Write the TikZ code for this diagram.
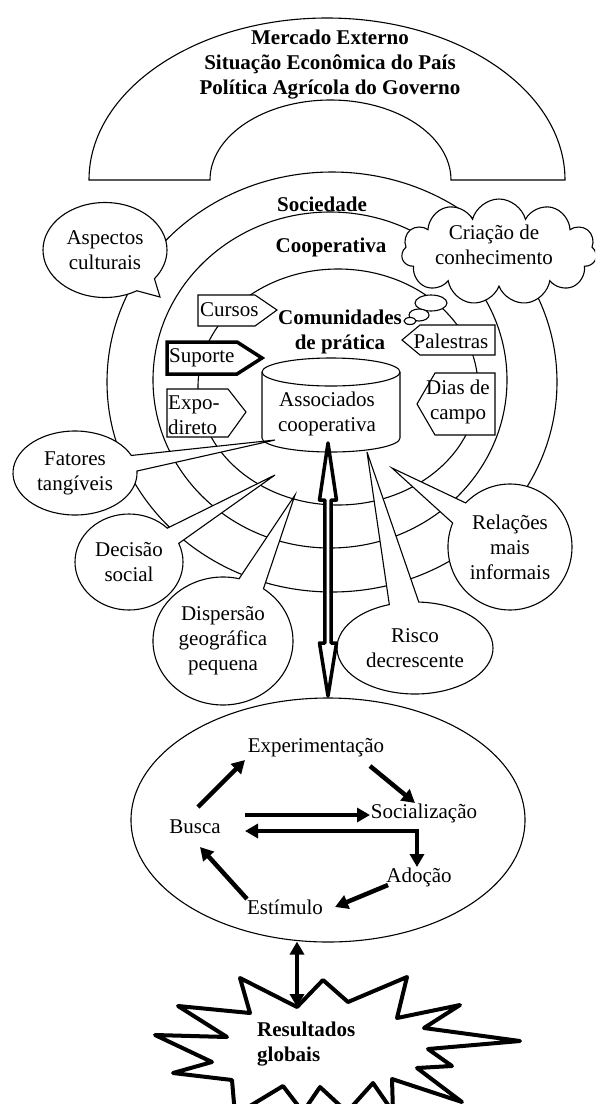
\documentclass[tikz,border=0pt]{standalone}
\usepackage{fontspec}
\setmainfont{Liberation Serif}
\usetikzlibrary{shapes.callouts,shapes.symbols,shapes.geometric,arrows.meta,calc}
\begin{document}
\begin{tikzpicture}[x=1pt,y=-1pt,
  lw/.style={line width=1.1pt},
  txt/.style={font=\fontsize{21}{25}\selectfont, inner sep=0pt, align=center},
  btxt/.style={font=\fontsize{21}{25}\selectfont\bfseries, inner sep=0pt, align=center},
  bubble/.style={ellipse callout, draw, line width=1.1pt, fill=white, inner sep=0pt,
     align=center, font=\fontsize{21}{25}\selectfont, callout pointer arc=22},
  boxshape/.style={draw, line width=1.1pt, fill=white},
  oval/.style={draw, ellipse, line width=1.1pt, fill=white, inner sep=0pt},
  cyc/.style={line width=4.5pt, >={Triangle[length=13pt,width=14pt]}, ->},
]
\useasboundingbox (0,0) rectangle (595,1104);
\clip (0,0) rectangle (595,1104);

% top arch
\draw[lw] (89,180) arc[start angle=180,end angle=0,x radius=238pt,y radius=162pt]
  -- (451,180) arc[start angle=0,end angle=180,x radius=120.5pt,y radius=80pt] -- cycle;
\node[btxt] (ext) at (330,65) {Mercado Externo\\Situação Econômica do País\\Política Agrícola do Governo};

% concentric rings
\draw[lw] (332,382) ellipse [x radius=225pt, y radius=210pt];
\draw[lw] (330,380) ellipse [x radius=177pt, y radius=168pt];
\draw[lw] (338,387) ellipse [x radius=140pt, y radius=118pt];

\node[btxt] (soclbl) at (322,204) {Sociedade};
\node[btxt] (cooplbl) at (331,247) {Cooperativa};
\node[btxt] (comlbl) at (340,332) {Comunidades\\de prática};

% tools boxes
\draw[boxshape] (198,295) -- (255,295) -- (277,310) -- (255,326) -- (198,326) -- cycle;
\node[txt, anchor=west] (cursos) at (200,310) {Cursos};
\draw[draw, line width=3.5pt, fill=white] (167,342) -- (237,342) -- (262,358) -- (237,374) -- (167,374) -- cycle;
\node[txt, anchor=west] (suporte) at (169,358) {Suporte};
\draw[boxshape] (167,389) -- (228,389) -- (246,412) -- (228,437) -- (167,437) -- cycle;
\node[txt, anchor=west, align=left] (expo) at (168,415) {Expo-\\direto};
\draw[boxshape] (420,325) -- (495,325) -- (495,355) -- (420,355) -- (402,340) -- cycle;
\node[txt] (palestras) at (451,341) {Palestras};
\draw[boxshape] (435,373) -- (495,373) -- (495,435) -- (435,435) -- (417,404) -- cycle;
\node[txt] (dias) at (458,402) {Dias de\\campo};

% cylinder
\draw[lw, fill=white] (262,372) -- (262,438)
  arc[start angle=180,end angle=360,x radius=69pt,y radius=14pt] -- (400,372)
  arc[start angle=0,end angle=180,x radius=69pt,y radius=14pt] -- cycle;
\draw[lw] (262,372) arc[start angle=180,end angle=360,x radius=69pt,y radius=14pt];
\node[txt] (assoc) at (327,414) {Associados\\cooperativa};

% cloud and thought bubbles
\node[cloud, draw, lw, fill=white, cloud puffs=11, cloud ignores aspect,
  minimum width=195pt, minimum height=106pt, inner sep=0pt] (cloudshape) at (499,252) {};
\node[txt] (criacao) at (494,245) {Criação de\\conhecimento};
\node[oval, minimum width=32pt, minimum height=16pt] (th1) at (431,303) {};
\node[oval, minimum width=20pt, minimum height=12pt] (th2) at (419,315) {};
\node[oval, minimum width=12pt, minimum height=7pt] (th3) at (410,321) {};

% callouts
\coordinate (pAsp) at (160,297);
\coordinate (pFat) at (275,440);
\coordinate (pDec) at (275,475);
\coordinate (pDis) at (295,495);
\coordinate (pRis) at (367,452);
\coordinate (pRel) at (392,468);
\node[bubble, minimum width=124pt, minimum height=95pt, callout absolute pointer={(pAsp)}] (asp) at (105,250) {Aspectos\\culturais};
\node[bubble, minimum width=124pt, minimum height=84pt, callout absolute pointer={(pFat)}] (fat) at (75,473) {Fatores\\tangíveis};
\node[bubble, minimum width=108pt, minimum height=96pt, callout absolute pointer={(pDec)}] (dec) at (129,562) {Decisão\\social};
\node[bubble, minimum width=140pt, minimum height=128pt, callout absolute pointer={(pDis)}] (dis) at (223,641) {Dispersão\\geográfica\\pequena};
\node[bubble, minimum width=156pt, minimum height=92pt, callout absolute pointer={(pRis)}] (ris) at (415,648) {Risco\\decrescente};
\node[bubble, minimum width=124pt, minimum height=126pt, callout absolute pointer={(pRel)}] (rel) at (510,547) {Relações\\mais\\informais};

% hollow double arrow
\coordinate (atop) at (328,443);
\coordinate (abot) at (328,696);
\draw[line width=3.5pt, fill=white, line join=round] (atop) -- ($(atop)+(8.5,57)$) -- ($(atop)+(3.2,57)$)
  -- ($(abot)+(3.2,-53)$) -- ($(abot)+(8.5,-53)$) -- (abot) -- ($(abot)+(-8.5,-53)$) -- ($(abot)+(-3.2,-53)$)
  -- ($(atop)+(-3.2,57)$) -- ($(atop)+(-8.5,57)$) -- cycle;

% process ellipse
\node[oval, minimum width=394pt, minimum height=244pt] (proc) at (328,820) {};
\node[txt] (exper) at (316,748) {Experimentação};
\node[txt] (social) at (424,813) {Socialização};
\node[txt] (busca) at (195,827) {Busca};
\node[txt] (adocao) at (419,877) {Adoção};
\node[txt] (estim) at (285,907) {Estímulo};

\draw[cyc] ($(busca)+(3,-20)$) -- ($(exper)+(-71,12)$);
\draw[cyc] ($(exper)+(54,18)$) -- ($(social)+(-9,-10)$);
\draw[cyc] ($(busca)+(50,-12)$) -- ($(social)+(-54,2)$);
\draw[cyc, <->] ($(busca)+(50,4)$) -| ($(adocao)+(-2,-10)$);
\draw[cyc] ($(adocao)+(-31,8)$) -- ($(estim)+(50,0)$);
\draw[cyc] ($(estim)+(-38,-8)$) -- ($(busca)+(5,20)$);

% star
\coordinate (startop) at (297,1007);
\draw[cyc, <->] ($(proc.south)+(-31,-1)$) -- (startop);
\draw[line width=4pt, line join=round, fill=white]
  (173,1073) -- (232,1080) -- (235,1115) -- (283,1086) -- (303,1112) -- (320,1087)
  -- (347,1112) -- (373,1083) -- (393,1112) -- (392,1079) -- (462,1102) -- (417,1068)
  -- (452,1066) -- (428,1049) -- (520,1041) -- (424,1028) -- (460,1005) -- (397,1018)
  -- (407,977) -- (348,1002) -- (323,980) -- (startop) -- (240,978) -- (250,1013)
  -- (178,1006) -- (227,1037) -- (155,1035) -- (212,1062) -- cycle;
\node[btxt, align=left, anchor=west] (res) at (257,1044) {Resultados\\globais};
\end{tikzpicture}
\end{document}
